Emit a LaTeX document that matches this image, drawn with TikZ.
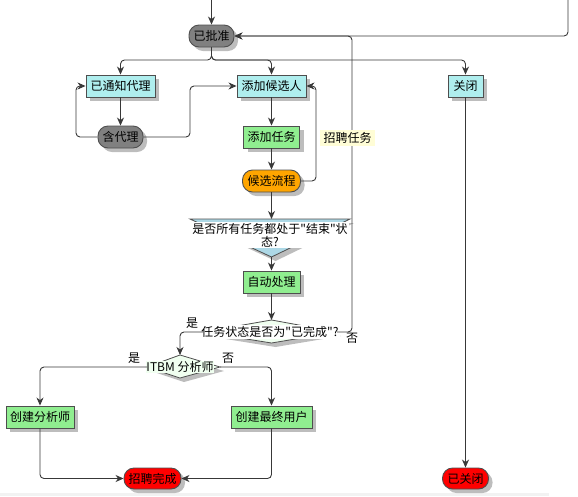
\documentclass[tikz,border=0pt]{standalone}
\usepackage{fontspec}
\setmainfont{Noto Sans CJK SC}[Ligatures=TeXOff]
\usetikzlibrary{arrows.meta,shadows}
\definecolor{ln}{HTML}{383838}
\definecolor{bd}{HTML}{4E4E4E}
\definecolor{shd}{HTML}{BDBDBD}
\definecolor{grayn}{HTML}{808080}
\definecolor{turq}{HTML}{AFEEEE}
\definecolor{grn}{HTML}{90EE90}
\definecolor{orng}{HTML}{FFA500}
\definecolor{rd}{HTML}{FF0000}
\definecolor{lbl}{HTML}{FFFDD6}
\definecolor{dblue}{HTML}{ADD8E6}
\definecolor{honey}{HTML}{F0FFF0}
\definecolor{botgray}{HTML}{F2F2F2}
\begin{document}
\begin{tikzpicture}[x=1pt,y=-1pt,
  nodebase/.style={draw=bd, line width=0.9pt, font=\fontsize{12}{13}\selectfont,
    inner sep=0pt, minimum height=22pt,
    drop shadow={shadow xshift=4pt, shadow yshift=-4pt, fill=shd, opacity=1}},
  actbox/.style={nodebase, rectangle},
  pill/.style={nodebase, rectangle, rounded corners=10pt},
  arr/.style={draw=ln, line width=0.9pt, rounded corners=4pt,
    -{Stealth[length=8pt,width=7pt,inset=2.5pt]}},
  decshape/.style={draw=bd, line width=0.8pt,
    drop shadow={shadow xshift=4pt, shadow yshift=-4pt, fill=shd, opacity=1}},
  dectext/.style={fill=white, inner sep=1pt, font=\fontsize{12}{13}\selectfont},
  yesno/.style={inner sep=0pt, font=\fontsize{12}{13}\selectfont}
]
\useasboundingbox (0,0) rectangle (578,496);
\fill[botgray] (0,493) rectangle (549,496);

% nodes
\node[pill, fill=grayn, minimum width=45pt] (approved) at (211.5,36) {已批准};
\node[actbox, fill=turq, minimum width=69pt] (notify) at (120.5,86) {已通知代理};
\node[pill, fill=grayn, minimum width=45pt] (agent) at (120.5,137) {含代理};
\node[actbox, fill=turq, minimum width=69pt] (addcand) at (271.5,86) {添加候选人};
\node[actbox, fill=grn, minimum width=56pt] (addtask) at (271.5,137) {添加任务};
\node[pill, fill=orng, minimum width=58pt] (candflow) at (271.5,181) {候选流程};
\node[actbox, fill=turq, minimum width=35pt] (close) at (465.5,86) {关闭};

% decision 1
\path[decshape, fill=dblue] (190,219) coordinate (d1l) -- (350,219) coordinate (d1r)
   -- (271.5,257) coordinate (d1bot) -- cycle;
\coordinate (d1top) at (271.5,219);
\node[dectext, align=center, minimum width=152pt, minimum height=26pt] (d1txt) at (270,235)
   {是否所有任务都处于"结束"状\\态?};

\node[actbox, fill=grn, minimum width=57pt] (auto) at (271.5,282) {自动处理};

% decision 2
\path[decshape, fill=honey] (203,332) coordinate (d2l) -- (271.5,320) coordinate (d2t)
   -- (337,332) coordinate (d2r) -- (271.5,343) coordinate (d2b) -- cycle;
\node[dectext] (d2txt) at (270,332) {任务状态是否为"已完成"?};

% decision 3
\path[decshape, fill=honey] (147,367) coordinate (d3l) -- (180,355) coordinate (d3t)
   -- (220,367) coordinate (d3r) -- (180,378) coordinate (d3b) -- cycle;
\node[fill=honey, inner sep=0.5pt, font=\fontsize{12}{13}\selectfont] (d3txt) at (180,367) {ITBM 分析师};

\node[actbox, fill=grn, minimum width=68pt] (analyst) at (40,417) {创建分析师};
\node[actbox, fill=grn, minimum width=81pt] (enduser) at (271.5,417) {创建最终用户};
\node[pill, fill=rd, minimum width=57pt, minimum height=21pt] (done) at (152.5,478.5) {招聘完成};
\node[pill, fill=rd, minimum width=46pt, minimum height=21pt] (closed) at (465.5,478.5) {已关闭};

% yes / no labels
\node[yesno] (y2) at (192,323) {是};
\node[yesno] (n2) at (352,338) {否};
\node[yesno] (y3) at (134,358) {是};
\node[yesno] (n3) at (228,358) {否};

% connectors
\coordinate (topin) at (211.5,0);
\coordinate (rtin) at (568,0);
\draw[arr] (topin) -- (approved.north);
\draw[arr] (rtin) |- (approved.east);
\draw[arr] (approved.south) -- (211.5,60) -| (notify.north);
\draw[arr] (approved.south) -- (211.5,60) -| (addcand.north);
\draw[arr] (approved.south) -- (211.5,60) -| (close.north);
\draw[arr] (notify) -- (agent);
\draw[arr] (agent.west) -- (76,137) |- (notify.west);
\draw[arr] (agent.east) -- (190,137) |- (addcand.west);
\draw[arr] (addcand) -- (addtask);
\draw[arr] (addtask) -- (candflow);
\draw[arr] (candflow.east) -- (316,181) |- (addcand.east);
\draw[arr] (candflow) -- (d1top);
\draw[arr] (d1bot) -- (auto);
\draw[arr] (auto) -- (d2t);
\draw[arr] (d2l) -| (d3t);
\draw[arr] (d2r) -- (352,332) |- (approved.east);
\draw[arr] (d3l) -| (analyst.north);
\draw[arr] (d3r) -| (enduser.north);
\draw[arr] (analyst.south) |- (done.west);
\draw[arr] (enduser.south) |- (done.east);
\draw[arr] (close) -- (closed);

% edge label
\node[fill=lbl, inner sep=0pt, minimum width=55pt, minimum height=16pt,
  font=\fontsize{12}{13}\selectfont] (lblrec) at (347.5,138) {招聘任务};
\end{tikzpicture}
\end{document}
